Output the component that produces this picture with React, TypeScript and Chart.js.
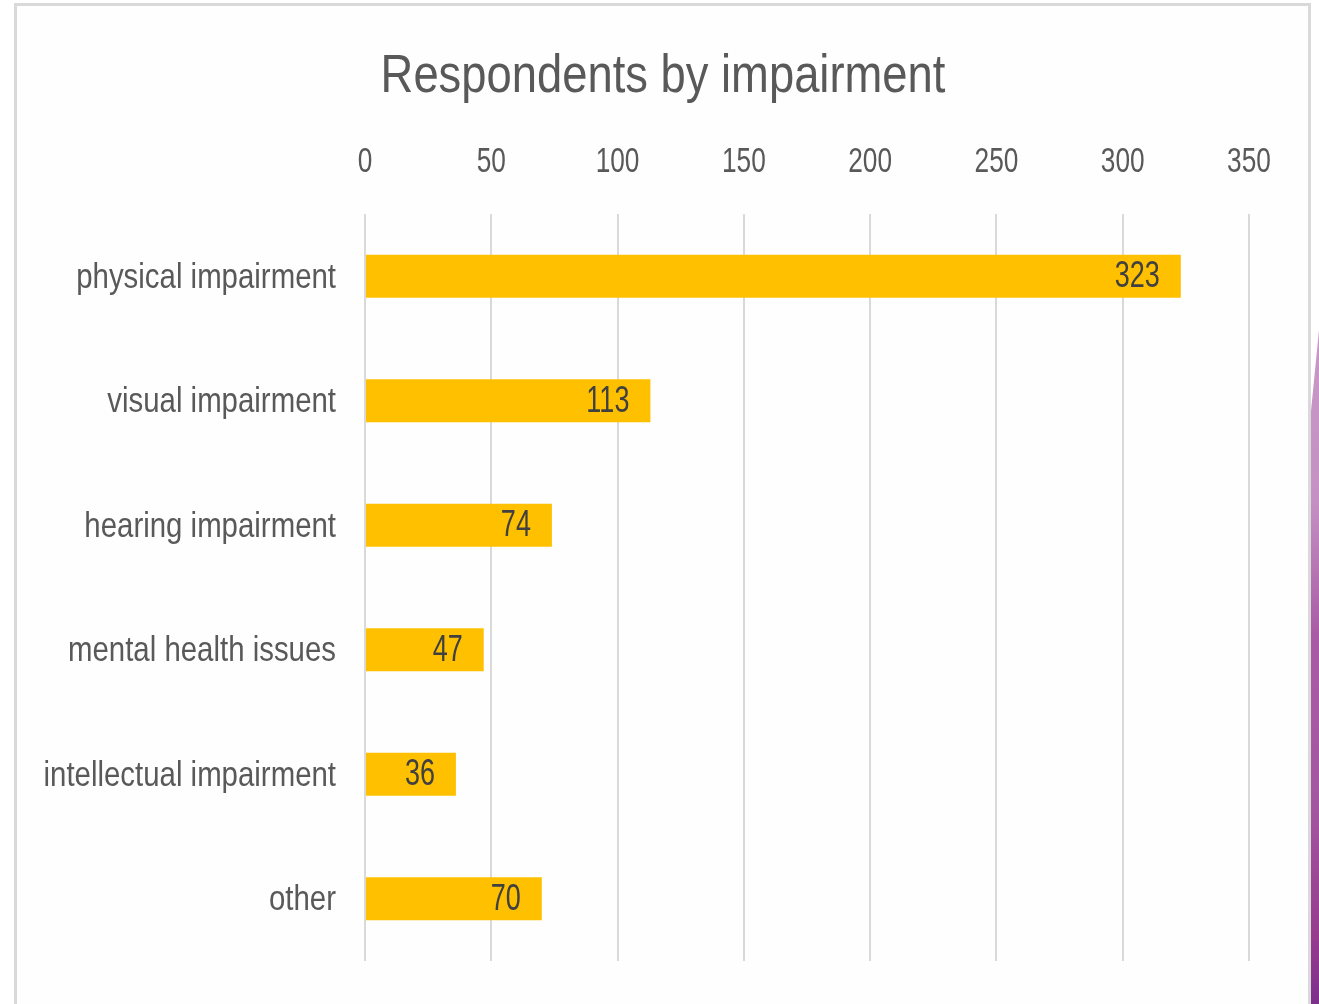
import React, { useEffect, useRef } from "react";
import { Chart, registerables } from "chart.js";

Chart.register(...registerables);

const categories = [
  "physical impairment",
  "visual impairment",
  "hearing impairment",
  "mental health issues",
  "intellectual impairment",
  "other",
];
const respondents = [323, 113, 74, 47, 36, 70];
const xTickValues = [0, 50, 100, 150, 200, 250, 300, 350];
const chartTitle = "Respondents by impairment";

const FONT = "'Liberation Sans', Arial, sans-serif";

// Narrow (Calibri-like) text: compress glyphs horizontally around their anchor point
const narrowText = {
  id: "narrowText",
  beforeDraw(chart: any) {
    const ctx = chart.ctx as any;
    if (ctx.__narrowed) return;
    ctx.__narrowed = true;
    const orig = ctx.fillText.bind(ctx);
    ctx.fillText = (text: string, x: number, y: number, maxWidth?: number) => {
      const s = /^\d+$/.test(String(text)) ? 0.75 : 0.84;
      ctx.save();
      ctx.translate(x, y);
      ctx.scale(s, 1);
      if (maxWidth === undefined) orig(text, 0, 0);
      else orig(text, 0, 0, maxWidth / s);
      ctx.restore();
    };
  },
};

// Title centred on the whole frame (as in the reference), not on the padded layout box
const frameTitle = {
  id: "frameTitle",
  afterDraw(chart: any) {
    const ctx = chart.ctx;
    ctx.save();
    ctx.font = `54px ${FONT}`;
    ctx.fillStyle = "#595959";
    ctx.textAlign = "center";
    ctx.textBaseline = "middle";
    ctx.fillText(chartTitle, 663, 77);
    ctx.restore();
  },
};

const valueLabels = {
  id: "valueLabels",
  afterDatasetsDraw(chart: any) {
    const ctx = chart.ctx;
    const meta = chart.getDatasetMeta(0);
    ctx.save();
    ctx.font = `36px ${FONT}`;
    ctx.fillStyle = "#404040";
    ctx.textAlign = "right";
    ctx.textBaseline = "middle";
    meta.data.forEach((bar: any, i: number) => {
      ctx.fillText(String(respondents[i]), bar.x - 21, bar.y + 1);
    });
    ctx.restore();
  },
};

export default function App() {
  const canvasRef = useRef<HTMLCanvasElement | null>(null);

  useEffect(() => {
    if (!canvasRef.current) return;
    const chart = new Chart(canvasRef.current, {
      type: "bar",
      data: {
        labels: categories,
        datasets: [
          {
            data: respondents,
            backgroundColor: "#FFC000",
            borderWidth: 0,
            barPercentage: 0.347,
            categoryPercentage: 1,
          },
        ],
      },
      options: {
        indexAxis: "y",
        animation: false,
        responsive: false,
        devicePixelRatio: 1,
        layout: { padding: { top: 112, left: 0, right: 70, bottom: 43 } },
        plugins: {
          legend: { display: false },
          tooltip: { enabled: false },
          title: { display: false },
        },
        scales: {
          x: {
            position: "top",
            min: xTickValues[0],
            max: xTickValues[xTickValues.length - 1],
            afterBuildTicks: (scale: any) => {
              scale.ticks = xTickValues.map((v) => ({ value: v }));
            },
            afterFit: (scale: any) => {
              scale.height = 102;
            },
            grid: { color: "#d9d9d9", lineWidth: 2, drawTicks: false },
            border: { display: false },
            ticks: {
              color: "#595959",
              font: { family: FONT, size: 35 },
              padding: 31,
              maxRotation: 0,
            },
          },
          y: {
            afterFit: (scale: any) => {
              scale.width = 365;
              scale.paddingTop = 0;
              scale.paddingBottom = 0;
            },
            grid: { display: false, drawTicks: false },
            border: { display: false },
            ticks: {
              color: "#595959",
              font: { family: FONT, size: 35 },
              padding: 29,
              labelOffset: 2,
            },
          },
        },
      },
      plugins: [narrowText, valueLabels, frameTitle],
    });
    return () => chart.destroy();
  }, []);

  return (
    <div style={{ position: "absolute", left: 0, top: 0, width: 1319, height: 1004, overflow: "hidden", background: "#ffffff" }}>
      <div
        style={{
          position: "absolute",
          left: 14,
          top: 3,
          width: 1291,
          height: 1010,
          border: "3px solid #d9d9d9",
          borderBottom: "none",
          background: "#fefefe",
        }}
      />
      <div
        style={{
          position: "absolute",
          left: 1311,
          top: 330,
          width: 8,
          height: 674,
          background: "linear-gradient(to bottom, #c897c6 0%, #c591c4 25%, #a95ca5 45%, #a457a1 70%, #963b8e 90%, #7d2f8c 100%)",
          clipPath: "polygon(100% 0, 100% 100%, 0 100%, 0 12%)",
        }}
      />
      <canvas ref={canvasRef} width={1319} height={1004} style={{ position: "absolute", left: 0, top: 0, width: 1319, height: 1004 }} />
    </div>
  );
}
